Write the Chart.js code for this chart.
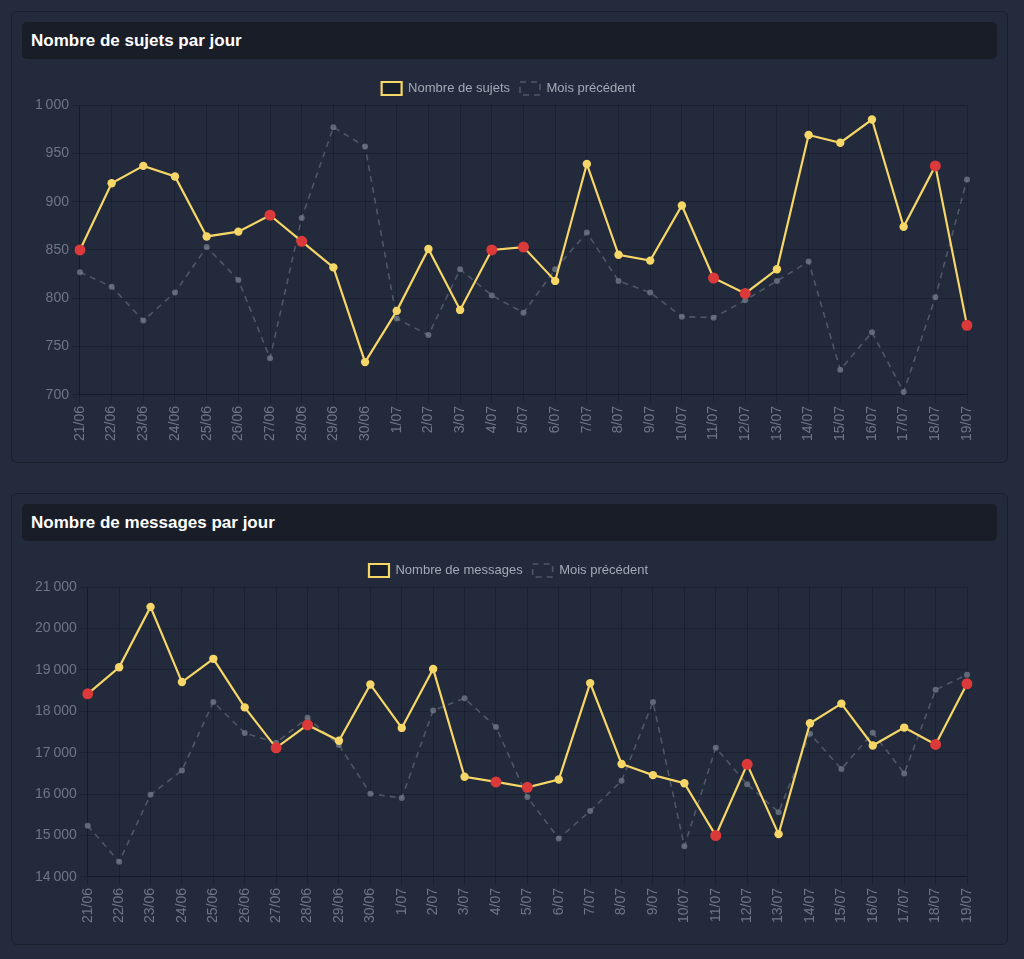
<!DOCTYPE html>
<html lang="fr">
<head>
<meta charset="utf-8">
<title>Statistiques</title>
<script src="https://cdn.jsdelivr.net/npm/chart.js@4/dist/chart.umd.min.js"></script>
<style>
    html, body {
        margin: 0;
        padding: 0;
        background: #232b3d;
        font-family: "Liberation Sans", Helvetica, Arial, sans-serif;
    }
    .page {
        padding: 11px 16px 0 11px;
    }
    .card {
        background: #222a3c;
        border: 1px solid #1a1f2b;
        border-radius: 6px;
        padding: 10px;
        margin-bottom: 30px;
        width: 975px;
    }
    .card h2 {
        margin: 0;
        height: 37px;
        line-height: 37px;
        padding: 0 9px;
        background: #191d27;
        border-radius: 5px;
        color: #ffffff;
        font-size: 17px;
        font-weight: bold;
    }
    .chart-wrap {
        position: relative;
        height: 380px;
        margin-top: 13px;
    }
</style>
</head>
<body>
<div class="page">
    <div class="card">
        <h2>Nombre de sujets par jour</h2>
        <div class="chart-wrap"><canvas id="topicsChart"></canvas></div>
    </div>
    <div class="card">
        <h2>Nombre de messages par jour</h2>
        <div class="chart-wrap"><canvas id="messagesChart"></canvas></div>
    </div>
</div>

<script>
// days shown on both charts
const days = ['21/06', '22/06', '23/06', '24/06', '25/06', '26/06', '27/06', '28/06', '29/06', '30/06',
    '1/07', '2/07', '3/07', '4/07', '5/07', '6/07', '7/07', '8/07', '9/07', '10/07',
    '11/07', '12/07', '13/07', '14/07', '15/07', '16/07', '17/07', '18/07', '19/07'];

// weekend days get a red dot
const weekendDays = ['21/06', '27/06', '28/06', '4/07', '5/07', '11/07', '12/07', '18/07', '19/07'];

const topicsCurrent = [850, 919, 937, 926, 864, 869, 886, 859, 832, 734,
    787, 851, 788, 850, 853, 818, 939, 845, 839, 896,
    821, 805, 830, 969, 961, 985, 874, 937, 772];
const topicsPrevious = [827, 812, 777, 806, 853, 819, 738, 883, 977, 957,
    779, 762, 830, 803, 785, 830, 868, 818, 806, 781,
    780, 798, 818, 838, 726, 765, 703, 801, 923];

const messagesCurrent = [18420, 19063, 20520, 18705, 19266, 18094, 17118, 17671, 17288, 18648,
    17598, 19022, 16418, 16295, 16165, 16352, 18680, 16727, 16458, 16263,
    15001, 16719, 15034, 17712, 18184, 17174, 17606, 17199, 18664];
const messagesPrevious = [15237, 14366, 15986, 16572, 18224, 17476, 17240, 17842, 17183, 16011,
    15905, 18021, 18314, 17622, 15929, 14928, 15595, 16320, 18224, 14741,
    17118, 16239, 15563, 17459, 16605, 17484, 16499, 18518, 18884];

const topicsTicks = { min: 700, max: 1000, step: 50 };
const messagesTicks = { min: 14000, max: 21000, step: 1000 };

const YELLOW = '#f6d667';
const RED = '#dc3a3a';
const GRID = 'rgba(10, 14, 22, 0.3)';
const FONT = '"Liberation Sans", Helvetica, Arial, sans-serif';

// nudge the legend so it sits centred on the whole card, not on the padded area
const legendShift = {
    id: 'legendShift',
    afterLayout(chart) {
        if (chart.legend) {
            chart.legend.left += 9;
            chart.legend.right += 9;
        }
    }
};

function buildChart(canvasId, label, current, previous, ticks) {
    const ctx = document.getElementById(canvasId).getContext('2d');
    const isWeekend = days.map(d => weekendDays.includes(d));

    return new Chart(ctx, {
        type: 'line',
        data: {
            labels: days,
            datasets: [{
                label: label,
                data: current,
                borderColor: YELLOW,
                backgroundColor: 'rgba(14, 17, 24, 0.45)',
                borderWidth: 2.2,
                fill: false,
                tension: 0,
                pointRadius: isWeekend.map(w => w ? 5.5 : 4.2),
                pointBackgroundColor: isWeekend.map(w => w ? RED : YELLOW),
                pointBorderColor: isWeekend.map(w => w ? RED : YELLOW),
                pointBorderWidth: 0,
                order: 1
            }, {
                label: 'Mois précédent',
                data: previous,
                borderColor: 'rgba(125, 132, 146, 0.5)',
                backgroundColor: 'rgba(0, 0, 0, 0)',
                borderWidth: 1.6,
                borderDash: [6, 5],
                fill: false,
                tension: 0,
                pointRadius: 3,
                pointBackgroundColor: 'rgba(118, 124, 138, 0.75)',
                pointBorderColor: 'rgba(118, 124, 138, 0.75)',
                pointBorderWidth: 0,
                order: 2
            }]
        },
        options: {
            responsive: true,
            maintainAspectRatio: false,
            animation: false,
            locale: 'fr-FR',
            layout: {
                padding: { left: 10, right: 30, top: 0, bottom: 8 }
            },
            plugins: {
                legend: {
                    labels: {
                        boxWidth: 20,
                        boxHeight: 13,
                        color: '#a3a9b5',
                        font: { family: FONT, size: 13 }
                    }
                },
                tooltip: { enabled: false }
            },
            scales: {
                x: {
                    grid: { color: GRID, tickLength: 8 },
                    border: { color: GRID },
                    ticks: {
                        color: '#6f7684',
                        font: { family: FONT, size: 14 },
                        minRotation: 90,
                        maxRotation: 90,
                        autoSkip: false
                    }
                },
                y: {
                    min: ticks.min,
                    max: ticks.max,
                    grid: { color: GRID, tickLength: 8 },
                    border: { color: GRID },
                    ticks: {
                        stepSize: ticks.step,
                        color: '#6f7684',
                        font: { family: FONT, size: 14 }
                    }
                }
            }
        },
        plugins: [legendShift]
    });
}

document.addEventListener('DOMContentLoaded', () => {
    buildChart('topicsChart', 'Nombre de sujets', topicsCurrent, topicsPrevious, topicsTicks);
    buildChart('messagesChart', 'Nombre de messages', messagesCurrent, messagesPrevious, messagesTicks);
});
</script>
</body>
</html>
